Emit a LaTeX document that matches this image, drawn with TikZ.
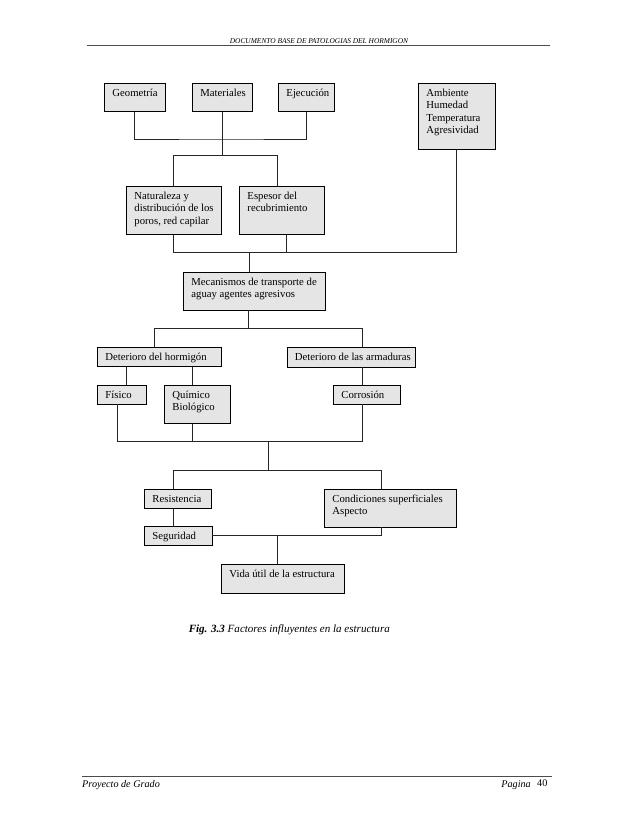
\documentclass[tikz,border=0pt]{standalone}
\usepackage{fontspec}
\setmainfont{Liberation Serif}
\usetikzlibrary{calc}
\newdimen\pxu \pxu=0.933pt
\tikzset{
  box/.style={draw=black, fill=black!10, line width=0.85pt, inner sep=0pt,
    font=\fontsize{10}{11.7}\selectfont},
  conn/.style={draw=black!85, line width=0.9pt},
  rule/.style={draw=black!70, line width=0.5pt}
}
\newcommand\bx[6]{\node[box, anchor=north west] (#1) at (#2,#3)
  {\parbox[c][#5\pxu][t]{#4\pxu}{\vspace*{4\pxu}\hspace*{8\pxu}\begin{tabular}[t]{@{}l@{}}#6\end{tabular}}};}
\begin{document}
\begin{tikzpicture}[x=0.933pt, y=-0.933pt]
\useasboundingbox (0,0) rectangle (638,826);
% header
\node[font=\fontsize{6.9}{8}\selectfont\itshape] (hdr) at (319,41) {DOCUMENTO BASE DE PATOLOGIAS DEL HORMIGON};
\draw[rule] (86.7,45.7) -- (550,45.7);
% boxes
\bx{geo}{104}{83}{61}{28}{Geometría}
\bx{mat}{192}{83}{59.5}{28}{Materiales}
\bx{eje}{278}{83}{56}{28}{Ejecución}
\bx{amb}{418}{83}{77}{66}{Ambiente\\Humedad\\Temperatura\\Agresividad}
\bx{nat}{126}{186}{95}{48}{Naturaleza y\\distribución de los\\poros, red capilar}
\bx{esp}{239}{186}{85}{48}{Espesor del\\recubrimiento}
\bx{mec}{183}{272}{142}{37.5}{Mecanismos de transporte de\\aguay agentes agresivos}
\bx{dh}{97}{347}{124}{19}{Deterioro del hormigón}
\bx{da}{286.5}{347}{128}{19.5}{Deterioro de las armaduras}
\bx{fis}{97}{385}{49}{18.5}{Físico}
\bx{qui}{164}{385}{66}{38}{Químico\\Biológico}
\bx{cor}{333}{385}{67}{18.5}{Corrosión}
\bx{res}{144}{489}{67}{19}{Resistencia}
\bx{cond}{324}{489}{132}{37.5}{Condiciones superficiales\\Aspecto}
\bx{seg}{144}{526}{67.5}{19}{Seguridad}
\bx{vida}{221}{564}{122.5}{28.5}{Vida útil de la estructura}
% connectors level 1
\coordinate (a1) at (mat.south |- 0,139);
\coordinate (a2) at (mat.south |- 0,155);
\draw[conn] (geo.south) |- (a1) -| (eje.south);
\draw[conn] (mat.south) -- (a2);
\draw[conn] (nat.north) |- (a2);
\draw[conn] ($(esp.north)+(-4.5,0)$) |- (a2);
% level 2
\coordinate (b1) at (249,252.7);
\draw[conn] (nat.south) |- (b1);
\draw[conn] (amb.south) |- (b1);
\draw[conn] ($(esp.south)+(5,0)$) |- (b1);
\draw[conn] (b1) -- (b1 |- mec.north);
% level 3
\coordinate (c1) at (248.5,328.3);
\draw[conn] (c1 |- mec.south) -- (c1);
\draw[conn] (c1) -| ($(dh.north)+(-5,0)$);
\draw[conn] (c1) -| ($(da.north)+(12,0)$);
% level 4
\draw[conn] (dh.south -| 126,0) -- (fis.north -| 126,0);
\draw[conn] (dh.south -| 192.7,0) -- (qui.north -| 192.7,0);
\draw[conn] (da.south -| 362.5,0) -- (cor.north -| 362.5,0);
% level 5
\coordinate (e1) at (268,441);
\coordinate (e2) at (268,470.7);
\draw[conn] (fis.south -| 117.3,0) |- (e1);
\draw[conn] (qui.south -| 192.7,0) -- (e1 -| 192.7,0);
\draw[conn] (cor.south -| 362.5,0) |- (e1);
\draw[conn] (e1) -- (e2);
\draw[conn] (e2) -| (res.north -| 173.3,0);
\draw[conn] (e2) -| (cond.north -| 381,0);
\draw[conn] (res.south -| 173.3,0) -- (seg.north -| 173.3,0);
\coordinate (f1) at (seg.east -| 277.3,0);
\draw[conn] (seg.east) -- (f1) -| (cond.south -| 381,0);
\draw[conn] (f1) -- (vida.north -| f1);
% caption
\node[anchor=west, font=\fontsize{10.3}{12}\selectfont\itshape] (cap) at (185,630) {\textbf{Fig. 3.3} Factores influyentes en la estructura};
% footer
\draw[rule] (82,776) -- (552,776);
\node[anchor=west, inner sep=0pt, font=\fontsize{9.5}{11}\selectfont\itshape] (ft) at (82,785) {Proyecto de Grado};
\node[anchor=east, inner sep=0pt, font=\fontsize{9.5}{11}\selectfont\itshape] (pg) at (531,785) {Pagina};
\node[anchor=west, inner sep=0pt, font=\fontsize{9.5}{11}\selectfont] (pn) at (537,783) {40};
\end{tikzpicture}
\end{document}
